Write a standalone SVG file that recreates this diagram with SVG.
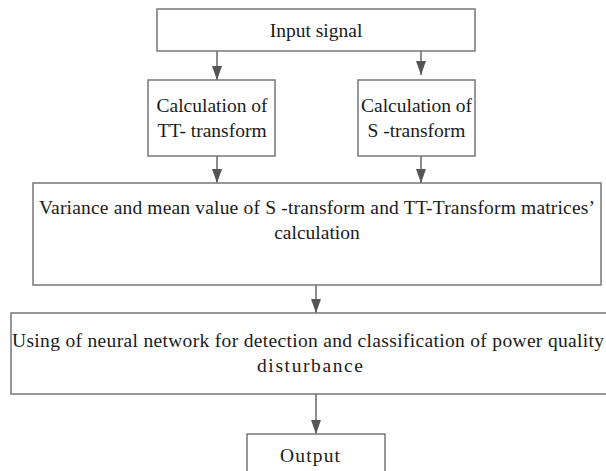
<svg xmlns="http://www.w3.org/2000/svg" width="606" height="471" viewBox="0 0 606 471">
<defs>
<marker id="ah" markerWidth="14" markerHeight="10" refX="14" refY="5" orient="auto" markerUnits="userSpaceOnUse" viewBox="0 0 14 10">
<path d="M0,0 L14,5 L0,10 Z" fill="#555"/>
</marker>
</defs>
<style>
.box{fill:#fff;stroke:#777;stroke-width:1.5}
.t{font-family:"Liberation Serif","Times New Roman",serif;font-size:19.5px;fill:#1a1a1a;text-anchor:middle}
.tl{font-family:"Liberation Serif","Times New Roman",serif;font-size:19.5px;fill:#1a1a1a}
.c{stroke:#666;stroke-width:1.5;fill:none}
</style>
<rect width="606" height="471" fill="#fff"/>
<g id="connectors">
<line class="c" x1="217" y1="51" x2="217" y2="80" marker-end="url(#ah)"/>
<line class="c" x1="421" y1="51" x2="421" y2="75" marker-end="url(#ah)"/>
<line class="c" x1="217" y1="156" x2="217" y2="183" marker-end="url(#ah)"/>
<line class="c" x1="421" y1="156" x2="421" y2="183" marker-end="url(#ah)"/>
<line class="c" x1="316" y1="285" x2="316" y2="313" marker-end="url(#ah)"/>
<line class="c" x1="316" y1="394" x2="316" y2="434" marker-end="url(#ah)"/>
</g>
<g id="input">
<rect class="box" x="157" y="9" width="318" height="42"/>
<text class="t" x="316" y="37">Input signal</text>
</g>
<g id="tt">
<rect class="box" x="148" y="80" width="127" height="76"/>
<text class="t" x="212" y="112">Calculation of</text>
<text class="t" x="212" y="137">TT- transform</text>
</g>
<g id="s">
<rect class="box" x="358" y="80" width="117" height="76"/>
<text class="t" x="416.5" y="112">Calculation of</text>
<text class="t" x="416.5" y="137">S -transform</text>
</g>
<g id="variance">
<rect class="box" x="33" y="183" width="568" height="102"/>
<text class="tl" x="39" y="214" textLength="556">Variance and mean value of S -transform and TT-Transform matrices’</text>
<text class="t" x="317" y="239">calculation</text>
</g>
<g id="neural">
<rect class="box" x="11" y="313" width="600" height="81"/>
<text class="tl" x="12" y="347" textLength="592">Using of neural network for detection and classification of power quality</text>
<text class="tl" x="257" y="372" textLength="106">disturbance</text>
</g>
<g id="output">
<rect class="box" x="247" y="434" width="138" height="40"/>
<text class="tl" x="280" y="462" textLength="60">Output</text>
</g>
</svg>
